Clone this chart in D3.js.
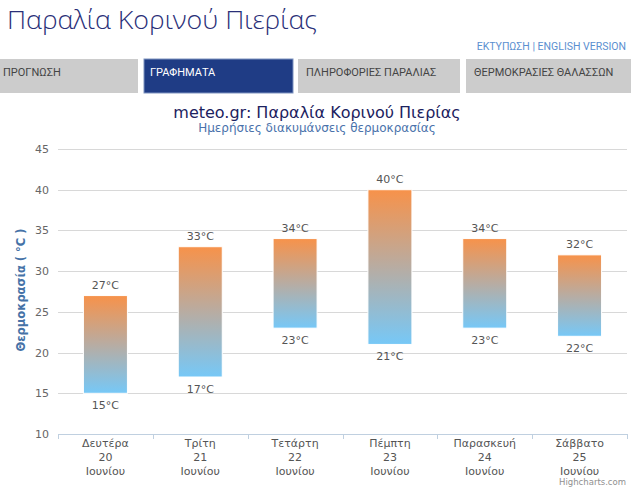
<!DOCTYPE html>
<html><head><meta charset="utf-8">
<script src="https://cdn.jsdelivr.net/npm/d3@7"></script>
<style>
html,body{margin:0;padding:0;background:#fff;overflow:hidden;}
svg{display:block;}
</style></head>
<body>
<svg id="c" width="640" height="487"></svg>
<script>
const days = ["Δευτέρα","Τρίτη","Τετάρτη","Πέμπτη","Παρασκευή","Σάββατο"];
const dates = ["20","21","22","23","24","25"];
const month = "Ιουνίου";
const highs = [27,33,34,40,34,32];
const lows = [15,17,23,21,23,22];
const yTicks = [10,15,20,25,30,35,40,45];
const tabs = ["ΠΡΟΓΝΩΣΗ","ΓΡΑΦΗΜΑΤΑ","ΠΛΗΡΟΦΟΡΙΕΣ ΠΑΡΑΛΙΑΣ","ΘΕΡΜΟΚΡΑΣΙΕΣ ΘΑΛΑΣΣΩΝ"];

(function(){
const svg = d3.select("#c");

// page header
svg.append("text").attr("x",7).attr("y",29)
  .attr("font-family","'Open Sans', sans-serif").attr("font-weight",300)
  .attr("font-size",26).attr("fill","#2a2f78")
  .attr("textLength",310).attr("lengthAdjust","spacingAndGlyphs")
  .text("Παραλία Κορινού Πιερίας");
svg.append("text").attr("x",626).attr("y",50).attr("text-anchor","end")
  .attr("font-family","Roboto, sans-serif").attr("font-size",10.5).attr("fill","#5b8fd0")
  .text("ΕΚΤΥΠΩΣΗ | ENGLISH VERSION");

const tabX = [[0,138],[144,293],[298,460],[466,631]];
tabs.forEach((t,i)=>{
  const active = i===1;
  svg.append("rect").attr("x",tabX[i][0]).attr("y",59).attr("width",tabX[i][1]-tabX[i][0]).attr("height",34)
    .attr("fill",active?"#1f3c85":"#cccccc")
    .attr("stroke",active?"#7e93c0":"none").attr("stroke-width",1);
  svg.append("text").attr("x",tabX[i][0]+(active?6:(i===0?3:8))).attr("y",76)
    .attr("font-family","Roboto, sans-serif").attr("font-size",11).attr("fill",active?"#ffffff":"#444")
    .text(t);
});

// chart
const pL=58, pR=627, pT=149, pB=434;
const y = d3.scaleLinear().domain([10,45]).range([pB,pT]);
const x = d3.scaleBand().domain(days).range([pL,pR]).padding(0);
const barFrac = 0.464;
const font = "'DejaVu Sans', Verdana, sans-serif";

svg.append("text").attr("x",317).attr("y",118).attr("text-anchor","middle")
  .attr("font-family",font).attr("font-size",16).attr("fill","#1c2260")
  .text("meteo.gr: Παραλία Κορινού Πιερίας");
svg.append("text").attr("x",317).attr("y",132).attr("text-anchor","middle")
  .attr("font-family",font).attr("font-size",12).attr("fill","#4a72ab")
  .text("Ημερήσιες διακυμάνσεις θερμοκρασίας");

const defs = svg.append("defs");
const g = defs.append("linearGradient").attr("id","bg").attr("x1",0).attr("y1",0).attr("x2",0).attr("y2",1);
g.append("stop").attr("offset","0%").attr("stop-color","#f7924a");
g.append("stop").attr("offset","50%").attr("stop-color","#b8aca2");
g.append("stop").attr("offset","100%").attr("stop-color","#76c8f7");

// grid
svg.append("g").selectAll("line").data(yTicks.filter(v=>v>10)).join("line")
  .attr("x1",pL).attr("x2",pR).attr("y1",d=>Math.round(y(d))+0.5).attr("y2",d=>Math.round(y(d))+0.5)
  .attr("stroke","#d8d8d8").attr("stroke-width",1);

// y labels
svg.append("g").selectAll("text").data(yTicks).join("text")
  .attr("x",49).attr("y",d=>y(d)+4).attr("text-anchor","end")
  .attr("font-family",font).attr("font-size",11).attr("fill","#666")
  .text(d=>d);

svg.append("text").attr("transform",`translate(25,290) rotate(-90)`).attr("text-anchor","middle")
  .attr("font-family",font).attr("font-size",11.5).attr("font-weight","bold").attr("fill","#4572a7")
  .text("Θερμοκρασία ( °C )");

// x axis
const xAxis = d3.axisBottom(x).tickSize(0).tickFormat("");
const ax = svg.append("g").attr("transform",`translate(0,${pB+0.5})`).call(xAxis);
ax.select(".domain").attr("stroke","#c0d0e0").attr("d",`M${pL},0H${pR}`);
const bounds = days.map(d=>x(d)).concat([pR]);
svg.append("g").selectAll("line").data(bounds).join("line")
  .attr("x1",d=>Math.round(d)+0.5).attr("x2",d=>Math.round(d)+0.5).attr("y1",pB).attr("y2",pB+5)
  .attr("stroke","#c0d0e0");

const xl = svg.append("g").selectAll("text").data(days).join("text")
  .attr("text-anchor","middle").attr("font-family",font).attr("font-size",11).attr("fill","#555");
xl.each(function(d,i){
  const t = d3.select(this); const cx = x(d)+x.bandwidth()/2;
  [d,dates[i],month].forEach((s,j)=>t.append("tspan").attr("x",cx).attr("y",447+j*14).text(s));
});

// bars
const data = days.map((d,i)=>({d,hi:highs[i],lo:lows[i]}));
svg.append("g").selectAll("rect").data(data).join("rect")
  .attr("x",d=>x(d.d)+x.bandwidth()*(1-barFrac)/2)
  .attr("width",x.bandwidth()*barFrac)
  .attr("y",d=>y(d.hi)).attr("height",d=>y(d.lo)-y(d.hi))
  .attr("fill","url(#bg)").attr("stroke","#ffffff").attr("stroke-width",1);

const lab = svg.append("g").attr("font-family",font).attr("font-size",11).attr("fill","#555").attr("text-anchor","middle");
lab.selectAll(".h").data(data).join("text").attr("class","h")
  .attr("x",d=>x(d.d)+x.bandwidth()/2).attr("y",d=>y(d.hi)-7).text(d=>d.hi+"°C");
lab.selectAll(".l").data(data).join("text").attr("class","l")
  .attr("x",d=>x(d.d)+x.bandwidth()/2).attr("y",d=>y(d.lo)+16).text(d=>d.lo+"°C");

svg.append("text").attr("x",626).attr("y",485).attr("text-anchor","end")
  .attr("font-family",font).attr("font-size",8.5).attr("fill","#909090").text("Highcharts.com");
})();
</script>
</body></html>
